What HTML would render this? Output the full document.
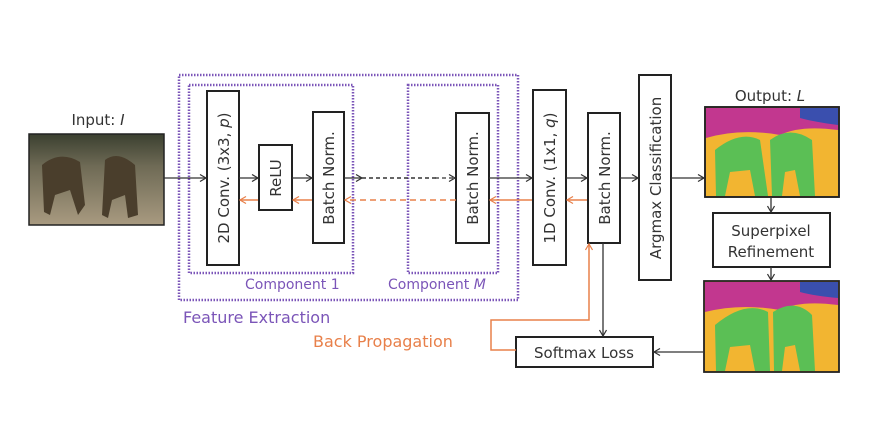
<!DOCTYPE html>
<html><head><style>body{margin:0;background:#fff}svg{display:block}text{font-family:"DejaVu Sans","Liberation Sans",sans-serif}</style></head><body>
<svg width="869" height="423" viewBox="0 0 869 423" xmlns="http://www.w3.org/2000/svg">
<defs>
<marker id="a" markerWidth="8" markerHeight="8" refX="7" refY="4" orient="auto" markerUnits="userSpaceOnUse"><path d="M1,0.5 L7,4 L1,7.5" fill="none" stroke="#333" stroke-width="1.2"/></marker>
<marker id="o" markerWidth="8" markerHeight="8" refX="7" refY="4" orient="auto" markerUnits="userSpaceOnUse"><path d="M1,0.5 L7,4 L1,7.5" fill="none" stroke="#e8804a" stroke-width="1.2"/></marker>
<linearGradient id="ph" x1="0" y1="0" x2="0" y2="1"><stop offset="0" stop-color="#3b4030"/><stop offset="0.35" stop-color="#6e6a55"/><stop offset="1" stop-color="#a89a80"/></linearGradient>
</defs>
<rect x="29" y="134" width="135" height="91" fill="url(#ph)" stroke="#222" stroke-width="1.5"/>
<path d="M42,165 Q60,150 80,162 L85,205 L78,215 L70,190 L55,195 L50,215 L44,212 Z" fill="#4a3e2c"/>
<path d="M105,160 Q118,150 135,165 L138,215 L128,218 L125,195 L112,200 L108,218 L102,215 Z" fill="#4a3e2c"/>
<text x="98" y="125" font-size="15" fill="#333" text-anchor="middle">Input: <tspan font-style="italic">I</tspan></text>
<g fill="none" stroke="#7b55b8" stroke-width="2.5" stroke-dasharray="1.5,1.5">
<rect x="179" y="75" width="339" height="225"/>
<rect x="189" y="85" width="164" height="188"/>
<rect x="408" y="85" width="90" height="188"/>
</g>
<text x="245" y="289" font-size="14" fill="#7b55b8">Component 1</text>
<text x="388" y="289" font-size="14" fill="#7b55b8">Component <tspan font-style="italic">M</tspan></text>
<text x="183" y="323" font-size="16" fill="#7b55b8">Feature Extraction</text>
<g fill="#fff" stroke="#222" stroke-width="2">
<rect x="207" y="91" width="32" height="174"/>
<rect x="259" y="145" width="33" height="65"/>
<rect x="313" y="112" width="31" height="131"/>
<rect x="456" y="113" width="33" height="130"/>
<rect x="533" y="90" width="33" height="175"/>
<rect x="588" y="113" width="32" height="130"/>
<rect x="639" y="75" width="32" height="205"/>
<rect x="713" y="213" width="117" height="54"/>
<rect x="516" y="337" width="137" height="30"/>
</g>
<g font-size="15" fill="#333" text-anchor="middle">
<text transform="translate(229,178) rotate(-90)">2D Conv. (3x3, <tspan font-style="italic">p</tspan>)</text>
<text transform="translate(281,178) rotate(-90)">ReLU</text>
<text transform="translate(334,178) rotate(-90)">Batch Norm.</text>
<text transform="translate(478,178) rotate(-90)">Batch Norm.</text>
<text transform="translate(555,178) rotate(-90)">1D Conv. (1x1, <tspan font-style="italic">q</tspan>)</text>
<text transform="translate(610,178) rotate(-90)">Batch Norm.</text>
<text transform="translate(661,178) rotate(-90)">Argmax Classification</text>
<text x="771" y="236">Superpixel</text>
<text x="771" y="257">Refinement</text>
<text x="584" y="358">Softmax Loss</text>
<text x="770" y="101" font-size="15">Output: <tspan font-style="italic">L</tspan></text>
</g>
<g>
<rect x="705" y="107" width="134" height="90" fill="#f2b531" stroke="#222" stroke-width="1.5"/>
<path d="M706,108 H838 V130 Q800,125 780,135 Q740,128 706,138 Z" fill="#c2378f"/>
<path d="M800,108 H838 V125 Q815,122 800,118 Z" fill="#3a4fae"/>
<path d="M715,150 Q740,130 760,140 L768,196 L755,196 L750,170 L730,172 L725,196 L716,196 Z" fill="#5bbf55"/>
<path d="M770,140 Q790,125 812,140 L815,196 L800,196 L795,170 L785,172 L782,196 L772,196 Z" fill="#5bbf55"/>
<rect x="705" y="107" width="134" height="90" fill="none" stroke="#222" stroke-width="1.8"/>
<rect x="704" y="281" width="135" height="91" fill="#f2b531"/>
<path d="M705,282 H838 V305 Q800,300 780,310 Q740,303 705,312 Z" fill="#c2378f"/>
<path d="M800,282 H838 V298 Q815,296 800,292 Z" fill="#3a4fae"/>
<path d="M715,325 Q745,300 768,312 L770,371 L755,371 L750,345 L730,347 L725,371 L716,371 Z" fill="#5bbf55"/>
<path d="M773,312 Q795,298 812,315 L815,371 L800,371 L795,345 L785,347 L782,371 L774,371 Z" fill="#5bbf55"/>
<rect x="704" y="281" width="135" height="91" fill="none" stroke="#222" stroke-width="1.8"/>
</g>
<g stroke="#333" stroke-width="1.3" fill="none" marker-end="url(#a)">
<line x1="164" y1="178" x2="206" y2="178"/>
<line x1="239" y1="178" x2="258" y2="178"/>
<line x1="292" y1="178" x2="312" y2="178"/>
<line x1="344" y1="178" x2="362" y2="178"/>
<line x1="435" y1="178" x2="455" y2="178" stroke-dasharray="4,3"/>
<line x1="489" y1="178" x2="532" y2="178"/>
<line x1="566" y1="178" x2="587" y2="178"/>
<line x1="620" y1="178" x2="638" y2="178"/>
<line x1="671" y1="178" x2="704" y2="178"/>
<line x1="771" y1="197" x2="771" y2="212"/>
<line x1="771" y1="267" x2="771" y2="280"/>
<line x1="603" y1="243" x2="603" y2="336"/>
<line x1="704" y1="352" x2="654" y2="352"/>
</g>
<line x1="362" y1="178" x2="436" y2="178" stroke="#333" stroke-width="1.5" stroke-dasharray="4,3"/>
<g stroke="#e8804a" stroke-width="1.5" fill="none" marker-end="url(#o)">
<line x1="258" y1="200" x2="240" y2="200"/>
<line x1="312" y1="200" x2="293" y2="200"/>
<line x1="456" y1="200" x2="345" y2="200" stroke-dasharray="6,4"/>
<line x1="532" y1="200" x2="490" y2="200"/>
<line x1="587" y1="200" x2="567" y2="200"/>
<polyline points="516,350 491,350 491,320 589,320 589,244"/>
</g>
<text x="313" y="347" font-size="16" fill="#e8804a">Back Propagation</text>
</svg>
</body></html>
